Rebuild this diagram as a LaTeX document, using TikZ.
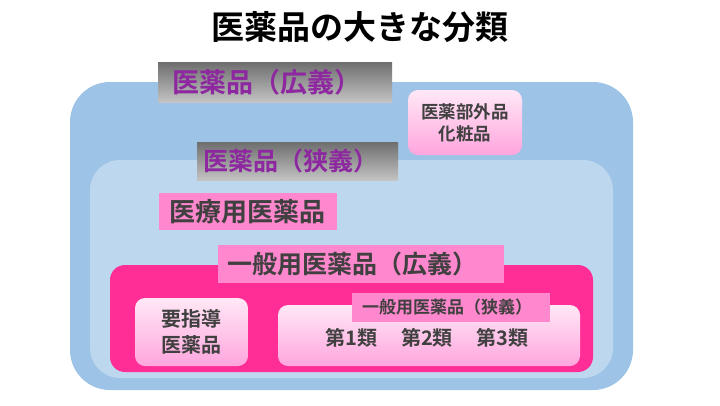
\documentclass[tikz,border=0pt]{standalone}
\usepackage{fontspec}
\setmainfont{Noto Sans CJK JP}
\newfontfamily\jpb{Noto Sans CJK JP Bold}
\definecolor{outerblue}{RGB}{157,195,230}
\definecolor{innerblue}{RGB}{189,215,238}
\definecolor{hotpink}{RGB}{255,45,150}
\definecolor{labelpink}{RGB}{255,135,205}
\definecolor{purpletext}{RGB}{142,40,160}
\definecolor{darktext}{RGB}{64,64,64}
\definecolor{gradtop}{RGB}{255,232,246}
\definecolor{gradbot}{RGB}{255,165,222}
\definecolor{graytop}{RGB}{110,110,110}
\definecolor{graybot}{RGB}{195,195,195}
\tikzset{
  area/.style={inner sep=0pt, draw=none},
  graylabel/.style={inner ysep=0pt, top color=graytop, bottom color=graybot, draw=none, align=left,
     text=purpletext, font=\jpb\fontsize{27}{30}\selectfont},
  pinklabel/.style={inner ysep=0pt, fill=labelpink, draw=none, text=darktext, align=left,
     font=\jpb\fontsize{26}{29}\selectfont},
  gradbox/.style={inner sep=0pt, rounded corners=10pt, top color=gradtop, bottom color=gradbot,
     draw=none, text=darktext, align=center},
}
\begin{document}
\begin{tikzpicture}[x=1pt,y=-1pt]
\useasboundingbox (0,0) rectangle (720,405);
\fill[white] (0,0) rectangle (720,405);
\node[font=\jpb\fontsize{33}{36}\selectfont, text=black] (title) at (360,27) {医薬品の大きな分類};
\node[area, fill=outerblue, rounded corners=40pt, minimum width=563pt, minimum height=308pt] (outer) at (351.5,236) {};
\node[area, fill=innerblue, rounded corners=30pt, minimum width=523pt, minimum height=218pt] (inner) at (351.5,269) {};
\node[area, fill=hotpink, rounded corners=15pt, minimum width=483pt, minimum height=107pt] (otc) at (351.5,318.5) {};
\node[graylabel, inner xsep=14pt, text width=206pt, minimum height=40pt] (broad) at (275,82) {医薬品（広義）};
\node[gradbox, minimum width=114pt, minimum height=65pt, font=\jpb\fontsize{17.5}{22}\selectfont] (quasi) at (465,122.5) {医薬部外品\\化粧品};
\node[graylabel, inner xsep=6pt, text width=189pt, minimum height=38pt, font=\jpb\fontsize{25}{28}\selectfont] (narrow) at (297.5,161) {医薬品（狭義）};
\node[pinklabel, inner xsep=10pt, text width=158pt, minimum height=37pt] (rx) at (248,211.5) {医療用医薬品};
\node[pinklabel, inner xsep=9pt, text width=268pt, minimum height=38pt, font=\jpb\fontsize{25}{28}\selectfont] (otcbroad) at (361,264) {一般用医薬品（広義）};
\node[gradbox, minimum width=113pt, minimum height=68pt, font=\jpb\fontsize{20}{26}\selectfont] (guided) at (191.5,332) {要指導\\医薬品};
\node[gradbox, minimum width=302pt, minimum height=61pt] (classes) at (429,335.5) {};
\node[inner sep=0pt, text=darktext, font=\jpb\fontsize{20}{23}\selectfont] (classtext) at (427,338) {第1類\hspace{1.2em}第2類\hspace{1.2em}第3類};
\node[pinklabel, inner xsep=10pt, text width=178pt, minimum height=29pt, font=\jpb\fontsize{17}{20}\selectfont] (otcnarrow) at (451,307.5) {一般用医薬品（狭義）};
\end{tikzpicture}
\end{document}
